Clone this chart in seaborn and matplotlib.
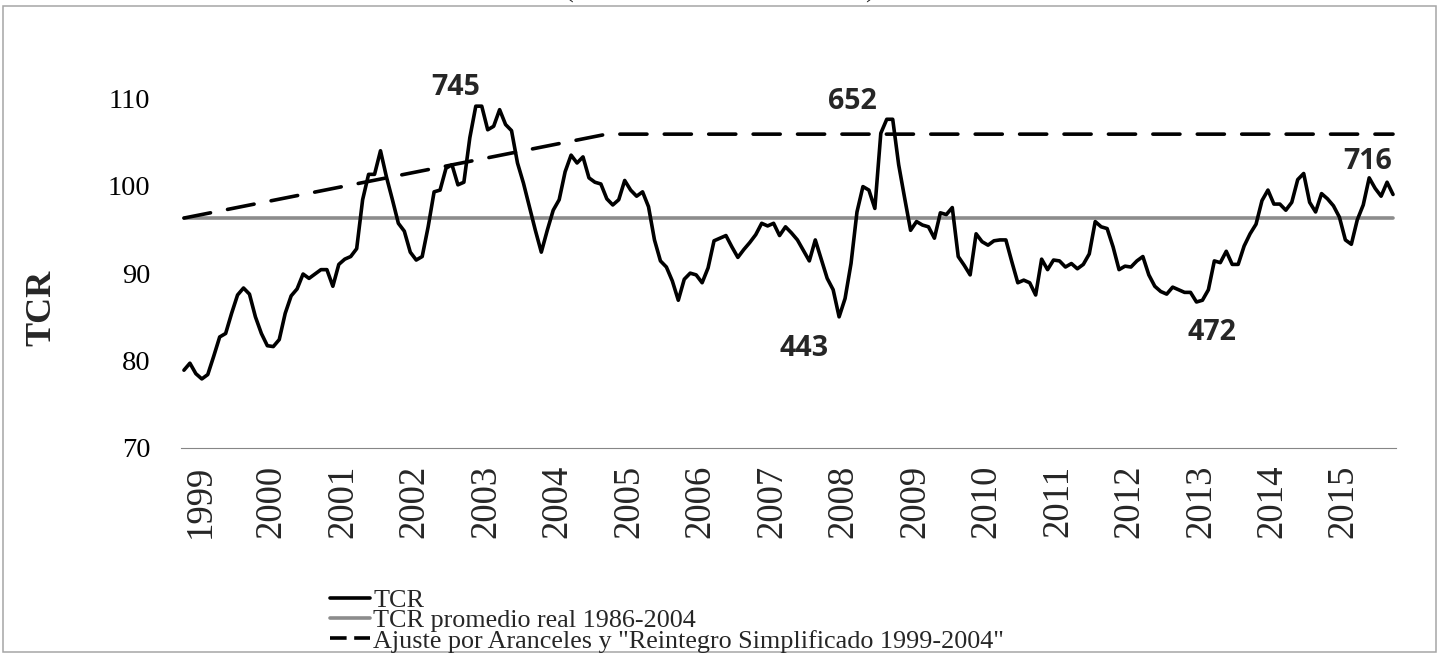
import numpy as np
import pandas as pd
import matplotlib
matplotlib.use("Agg")
import matplotlib.pyplot as plt
import seaborn as sns
from matplotlib.lines import Line2D
from matplotlib.patches import Rectangle

# TCR mensual, ene-1999 a dic-2015
tcr_1999 = [78.9, 79.7, 78.5, 77.9, 78.4, 80.5, 82.7, 83.1, 85.4, 87.5, 88.3, 87.6]
tcr_2000 = [85.0, 83.1, 81.7, 81.6, 82.4, 85.4, 87.4, 88.2, 89.9, 89.4, 89.9, 90.4]
tcr_2001 = [90.4, 88.5, 91.0, 91.6, 91.9, 92.8, 98.4, 101.3, 101.3, 104.0, 101.0, 98.4]
tcr_2002 = [95.7, 94.8, 92.4, 91.5, 91.9, 95.3, 99.3, 99.5, 102.0, 102.4, 100.1, 100.4]
tcr_2003 = [105.5, 109.1, 109.1, 106.4, 106.8, 108.7, 107.0, 106.3, 102.6, 100.3, 97.6, 94.9]
tcr_2004 = [92.4, 94.9, 97.2, 98.4, 101.6, 103.5, 102.6, 103.3, 100.9, 100.4, 100.2, 98.5]
tcr_2005 = [97.8, 98.4, 100.6, 99.5, 98.8, 99.3, 97.6, 93.8, 91.4, 90.7, 89.1, 86.9]
tcr_2006 = [89.3, 90.0, 89.8, 88.9, 90.6, 93.7, 94.0, 94.3, 93.0, 91.8, 92.7, 93.5]
tcr_2007 = [94.4, 95.7, 95.4, 95.7, 94.3, 95.3, 94.6, 93.8, 92.6, 91.4, 93.8, 91.6]
tcr_2008 = [89.4, 88.1, 85.0, 87.1, 91.1, 97.0, 99.9, 99.5, 97.4, 106.0, 107.6, 107.6]
tcr_2009 = [102.4, 98.6, 94.9, 95.9, 95.5, 95.3, 94.0, 96.9, 96.7, 97.5, 91.9, 90.9]
tcr_2010 = [89.8, 94.5, 93.6, 93.2, 93.7, 93.8, 93.8, 91.3, 88.9, 89.2, 88.9, 87.5]
tcr_2011 = [91.6, 90.4, 91.5, 91.4, 90.7, 91.1, 90.5, 91.0, 92.2, 95.9, 95.3, 95.1]
tcr_2012 = [93.0, 90.4, 90.8, 90.7, 91.4, 91.9, 89.8, 88.5, 87.9, 87.6, 88.4, 88.1]
tcr_2013 = [87.8, 87.8, 86.7, 86.9, 88.1, 91.4, 91.2, 92.5, 91.0, 91.0, 93.1, 94.5]
tcr_2014 = [95.6, 98.3, 99.5, 97.9, 97.9, 97.2, 98.1, 100.7, 101.4, 98.1, 97.0, 99.1]
tcr_2015 = [98.5, 97.7, 96.4, 93.8, 93.3, 96.1, 97.8, 100.9, 99.7, 98.8, 100.4, 99.0]

tcr = (tcr_1999 + tcr_2000 + tcr_2001 + tcr_2002 + tcr_2003 + tcr_2004 + tcr_2005
       + tcr_2006 + tcr_2007 + tcr_2008 + tcr_2009 + tcr_2010 + tcr_2011
       + tcr_2012 + tcr_2013 + tcr_2014 + tcr_2015)

anios = [str(a) for a in range(1999, 2016)]

promedio_meses = [0, 203]
promedio_valores = [96.3, 96.3]

ajuste_meses = [0, 71, 203]
ajuste_valores = [96.3, 105.9, 105.9]

etiquetas = ["745", "652", "443", "472", "716"]
etiqueta_mes = [45.7, 112.3, 104.1, 172.6, 198.8]
etiqueta_valor = [111.2, 109.6, 81.4, 83.2, 102.8]

nombres = ["TCR", "TCR promedio real 1986-2004",
           "Ajuste por Aranceles y \"Reintegro Simplificado 1999-2004\""]

sns.set_theme(style="white")
plt.rcParams["font.family"] = ["Liberation Serif", "DejaVu Serif"]

fig = plt.figure(figsize=(14.42, 6.54), dpi=100)
ax = fig.add_axes([0.1255, 0.315, 0.8426, 0.5347])

gris = "#8c8c8c"
lw = 2.6

df_prom = pd.DataFrame({"mes": promedio_meses, "valor": promedio_valores})
sns.lineplot(data=df_prom, x="mes", y="valor", color=gris, linewidth=lw, ax=ax)

df_ajuste = pd.DataFrame({"mes": ajuste_meses, "valor": ajuste_valores})
sns.lineplot(data=df_ajuste, x="mes", y="valor", color="black", linewidth=lw, ax=ax)
linea = ax.lines[-1]
linea.set_dashes([7.5, 4.8])
linea.set_dash_capstyle("round")

df_tcr = pd.DataFrame({"mes": np.arange(len(tcr)), "valor": tcr})
sns.lineplot(data=df_tcr, x="mes", y="valor", color="black", linewidth=lw, ax=ax)
ax.lines[-1].set_solid_joinstyle("round")

ax.set_xlim(-0.5, len(tcr) - 0.5)
ax.set_ylim(70, 110)
ax.set_xlabel("")
ax.set_ylabel("TCR", fontsize=26, fontweight="bold")
ax.yaxis.set_label_coords(-0.101, 0.40)

for lado in ["left", "top", "right"]:
    ax.spines[lado].set_visible(False)
ax.spines["bottom"].set_color("#868686")
ax.spines["bottom"].set_linewidth(0.8)

ax.set_yticks([70, 80, 90, 100, 110])
ax.tick_params(axis="y", length=0, pad=22, labelsize=20.5, colors="black")

ax.set_xticks(np.arange(-0.5, len(tcr), 12))
ax.set_xticklabels([])
ax.set_xticks(np.arange(len(anios)) * 12 + 2.7, minor=True)
ax.set_xticklabels(anios, minor=True, rotation=90, fontsize=26.5)
ax.tick_params(axis="x", which="major", direction="inout", length=16,
               width=0.8, color="#868686")
ax.tick_params(axis="x", which="minor", length=0, pad=12)

for txt, m, v in zip(etiquetas, etiqueta_mes, etiqueta_valor):
    ax.text(m, v, txt, ha="center", va="center", fontsize=20.5, fontweight="bold",
            family=["Open Sans", "DejaVu Sans"], clip_on=False)

handles = [
    Line2D([], [], color="black", lw=lw),
    Line2D([], [], color=gris, lw=lw),
    Line2D([], [], color="black", lw=lw, dashes=(4.6, 2.1)),
]
fig.legend(handles, nombres, loc="upper left",
           bbox_to_anchor=(330 / 1442, 1 - 589 / 654), frameon=False,
           fontsize=18.8, handlelength=1.55, handletextpad=0.1,
           borderpad=0, borderaxespad=0, labelspacing=-0.12)

fig.text(0.4993, 1.0045, "(Índice base dic. 2001 = 100)", ha="center",
         va="baseline", fontsize=19)

fig.patches.append(Rectangle((0.002, 0.003), 0.994, 0.988, transform=fig.transFigure,
                             fill=False, edgecolor="#a6a6a6", linewidth=1.1))

fig.savefig("out.png", dpi=100)
